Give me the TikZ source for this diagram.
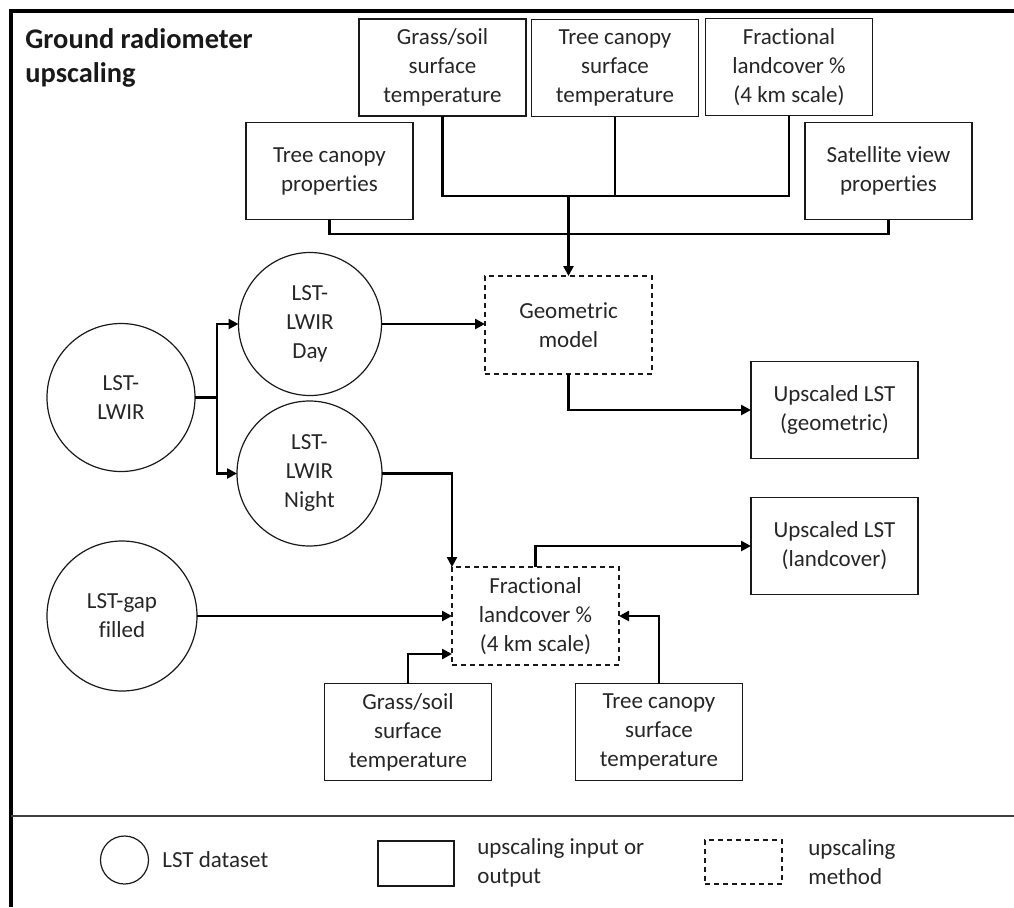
\documentclass[tikz,border=0pt]{standalone}
\usepackage{fontspec}
\setmainfont{Carlito}[Ligatures=NoCommon]
\usetikzlibrary{arrows.meta,calc}
\def\u{0.5pt}
\tikzset{
  txt/.style={text=black!85, font=\fontsize{11.5pt}{14.5pt}\selectfont, align=center, inner sep=0pt, outer sep=0pt},
  iobox/.style={txt, draw=black!90, line width=0.8pt, minimum width=167*\u, minimum height=97*\u},
  methodbox/.style={txt, draw=black!90, line width=0.8pt, dash pattern=on 2.5pt off 2pt, minimum width=167*\u, minimum height=98*\u},
  dataset/.style={txt, circle, draw=black!90, line width=0.6pt},
  conn/.style={line width=1.4pt, black},
  arr/.style={conn, -{Triangle[length=5pt,width=5pt]}},
  legtxt/.style={text=black!85, font=\fontsize{11.5pt}{14.5pt}\selectfont, align=left, anchor=west, inner sep=0pt}
}
\begin{document}
\begin{tikzpicture}[x=0.5pt,y=-0.5pt]
\useasboundingbox (0,0) rectangle (1014,907);
% frame
\draw[line width=2pt, black] (10.5,907) -- (10.5,10.5) -- (1014,10.5);
\draw[line width=1pt, black!75] (10.5,816) -- (1014,816);
% title
\node[anchor=north west, align=left, inner sep=0pt, font=\fontsize{14.2pt}{17pt}\selectfont\bfseries, text=black!90] (title) at (25,28) {Ground radiometer\\upscaling};
% top inputs
\node[iobox] (gs1) at (442.5,67.5) {Grass/soil\\surface\\temperature};
\node[iobox] (tcs1) at (615,68) {Tree canopy\\surface\\temperature};
\node[iobox] (fl1) at (789,67) {Fractional\\landcover \%\\(4 km scale)};
\node[iobox] (tcp) at (329.5,171) {Tree canopy\\properties};
\node[iobox] (svp) at (888.5,171) {Satellite view\\properties};
% methods
\node[methodbox] (geo) at (568.5,325) {Geometric\\model};
\node[methodbox] (flm) at (535.5,616) {Fractional\\landcover \%\\(4 km scale)};
% outputs
\node[iobox] (ulg) at (834.5,410) {Upscaled LST\\(geometric)};
\node[iobox] (ull) at (834.5,546) {Upscaled LST\\(landcover)};
% bottom inputs
\node[iobox] (gs2) at (408,732) {Grass/soil\\surface\\temperature};
\node[iobox] (tcs2) at (659,732) {Tree canopy\\surface\\temperature};
% datasets
\node[dataset, minimum size=148*\u] (lwir) at (121,397.5) {LST-\\LWIR};
\node[dataset, minimum size=143*\u] (day) at (310,324) {LST-\\LWIR\\Day};
\node[dataset, minimum size=145*\u] (night) at (309.5,473.5) {LST-\\LWIR\\Night};
\node[dataset, minimum size=150*\u] (gap) at (122,616) {LST-gap\\filled};
% junction coordinates
\coordinate (j1) at (568.5,196);
\coordinate (j2) at (568.5,234);
\coordinate (br) at (217,397.5);
% connectors top
\draw[conn] (gs1.south) |- (j1) -| (fl1.south);
\draw[conn] (tcs1.south) -- (tcs1.south |- j1);
\draw[conn] (tcp.south) |- (j2) -| (svp.south);
\draw[arr] (j1) -- (geo.north);
% LWIR branch
\draw[conn] (lwir.east) -- (br);
\draw[arr] (br) |- (day.west);
\draw[arr] (br) |- (night.west);
\draw[arr] (day.east) -- (day.east -| geo.west);
\draw[arr] (geo.south) |- (ulg.west);
\draw[arr] (night.east) -| (flm.north west);
\draw[arr] (gap.east) -- (flm.west);
\draw[arr] (gs2.north) |- ($(flm.west)+(0,38)$);
\draw[arr] (tcs2.north) |- (flm.east);
\draw[arr] (flm.north) |- (ull.west);
% legend
\node[dataset, minimum size=48*\u] (legc) at (124.5,860) {};
\node[legtxt] (legct) at (162,860) {LST dataset};
\node[iobox, minimum width=76*\u, minimum height=45*\u] (legr) at (416,863.5) {};
\node[legtxt] (legrt) at (477,863) {upscaling input or\\output};
\node[methodbox, minimum width=77*\u, minimum height=44*\u] (legd) at (743.5,862) {};
\node[legtxt] (legdt) at (808,862) {upscaling\\method};
\end{tikzpicture}
\end{document}
